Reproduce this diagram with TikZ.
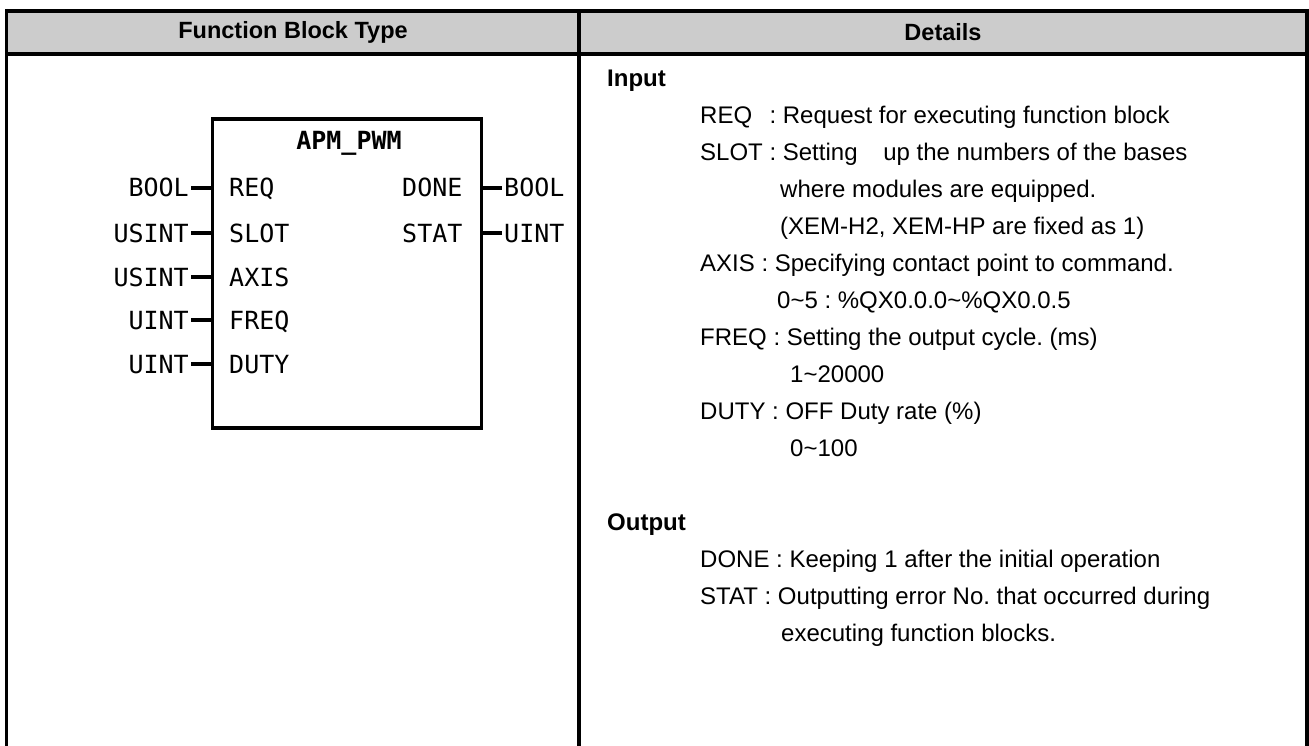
\documentclass[tikz,border=0pt]{standalone}
\usepackage{fontspec}
\setmainfont{Liberation Sans}
\newfontfamily\fbfont{DejaVu Sans Mono}
\usetikzlibrary{positioning}
\definecolor{headgray}{HTML}{CCCCCC}
\frenchspacing
\tikzset{rule/.style={line width=3.3pt},wire/.style={line width=3.3pt},head/.style={inner sep=0pt,font=\fontsize{23.5}{28}\selectfont\bfseries},det/.style={anchor=base west,inner sep=0pt,font=\fontsize{24}{28}\selectfont},port/.style={anchor=base west,inner sep=0pt,font=\fontsize{25}{30}\fbfont},typ/.style={port,anchor=base east},fbox/.style={draw,line width=3.3pt,outer sep=0pt,inner sep=0pt,anchor=north west,minimum width=269pt,minimum height=309pt}}

\begin{document}
\begin{tikzpicture}[x=1pt,y=-1pt]
\useasboundingbox (0,0) rectangle (1309,746);
\draw[rule,fill=headgray] (6.5,11) rectangle (1307,54);\draw[rule] (6.5,9) -- (6.5,746);\draw[rule] (579,11) -- (579,746);\draw[rule] (1307,9) -- (1307,746);
\node[head] (colfb) at (293,32) {Function Block Type};\node[head] (coldet) at (943,32) {Details};
\node[fbox] (fb) at (212.5,119) {};\node[font=\fontsize{25}{30}\fbfont\bfseries,inner sep=0pt] (fbname) at (349,143) {APM\_PWM};
\foreach \p/\t/\y in {REQ/BOOL/188,SLOT/USINT/233,AXIS/USINT/277,FREQ/UINT/320,DUTY/UINT/364}{\coordinate (r\p) at (212.5,\y);\node[port] (in\p) at (229,\y+9) {\p};\node[typ] (t\p) at (189,\y+9) {\t};\draw[wire,shorten <=2pt] (t\p.east |- r\p) -- (r\p);}
\foreach \p/\t/\y in {DONE/BOOL/188,STAT/UINT/233}{\coordinate (r\p) at (481.5,\y);\node[port] (out\p) at (402,\y+9) {\p};\node[port] (t\p) at (504,\y+9) {\t};\draw[wire,shorten >=2pt] (r\p) -- (t\p.west |- r\p);}
\node[det,font=\fontsize{24}{28}\selectfont\bfseries] (input) at (607,86.6) {Input};
\node[det] (dreq) at (700,123.6) {REQ\hspace{10.7pt} : Request for executing function block};
\node[det] (dslot) at (700,160.6) {SLOT : Setting\hspace{19pt} up the numbers of the bases};
\node[det] (dslot2) at (780,197.6) {where modules are equipped.};
\node[det] (dslot3) at (780,234.6) {(XEM-H2, XEM-HP are fixed as 1)};
\node[det] (daxis) at (700,271.6) {AXIS : Specifying contact point to command.};
\node[det] (daxis2) at (777,308.6) {0\textasciitilde5 : \%QX0.0.0\textasciitilde\%QX0.0.5};
\node[det] (dfreq) at (700,345.6) {FREQ : Setting the output cycle. (ms)};
\node[det] (dfreq2) at (790,382.6) {1\textasciitilde20000};
\node[det] (dduty) at (700,419.6) {DUTY : OFF Duty rate (\%)};
\node[det] (dduty2) at (790,456.6) {0\textasciitilde100};
\node[det,font=\fontsize{24}{28}\selectfont\bfseries] (output) at (607,530.6) {Output};
\node[det] (ddone) at (700,567.6) {DONE : Keeping 1 after the initial operation};
\node[det] (dstat) at (700,604.6) {STAT : Outputting error No. that occurred during};
\node[det] (dstat2) at (781,641.6) {executing function blocks.};
\end{tikzpicture}
\end{document}
